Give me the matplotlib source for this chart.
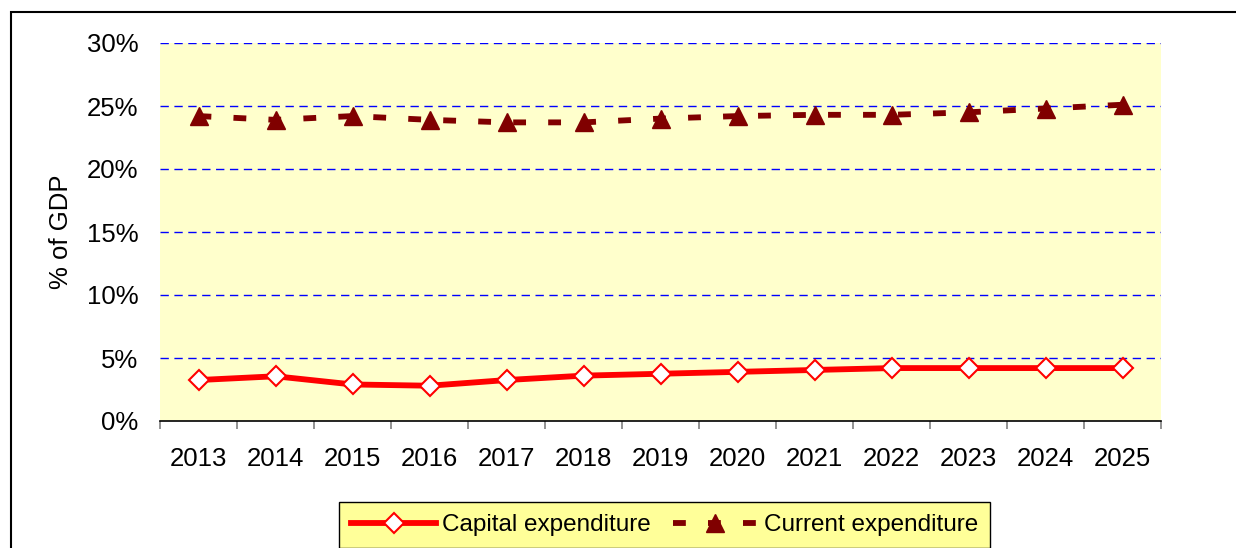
import matplotlib.pyplot as plt
from matplotlib.patches import Rectangle
from matplotlib.ticker import FuncFormatter, FixedLocator
import numpy as np

years = ['2013', '2014', '2015', '2016', '2017', '2018', '2019',
         '2020', '2021', '2022', '2023', '2024', '2025']
capital = [3.25, 3.55, 2.9, 2.8, 3.25, 3.6, 3.75, 3.9, 4.05, 4.2, 4.2, 4.2, 4.2]
current = [24.2, 23.9, 24.2, 23.9, 23.7, 23.7, 24.0, 24.2, 24.3, 24.3, 24.5, 24.8, 25.1]

plt.rcParams['font.family'] = ['Liberation Sans', 'DejaVu Sans']

fig = plt.figure(figsize=(12.36, 5.48), dpi=100)
ax = fig.add_axes([160 / 1236, 1 - 421 / 548, 1001 / 1236, 378 / 548])
ax.set_facecolor('#FFFFCC')

x = np.arange(len(years))

# gridlines
for v in range(5, 31, 5):
    ax.axhline(v, color='#0000FF', linewidth=1, linestyle=(0, (6, 4)), zorder=1)

ax.plot(x, capital, color='#FF0000', linewidth=4.2, marker='D', markersize=10,
        markerfacecolor='white', markeredgecolor='#FF0000', markeredgewidth=1.5,
        label='Capital expenditure', zorder=3)
ax.plot(x, current, color='#800000', linewidth=4.2, linestyle=(0, (2.2, 3.8)),
        dash_capstyle='butt', marker='^', markersize=13,
        markerfacecolor='#800000', markeredgecolor='#800000',
        label='Current expenditure', zorder=3)

ax.set_xlim(-0.5, len(years) - 0.5)
ax.set_ylim(0, 30)
ax.set_yticks(range(0, 31, 5))
ax.yaxis.set_major_formatter(FuncFormatter(lambda v, p: f'{v:.0f}%'))
ax.set_xticks(x)
ax.set_xticklabels(years)
ax.xaxis.set_minor_locator(FixedLocator(np.arange(-0.5, len(years), 1.0)))
ax.tick_params(axis='x', which='major', length=0, pad=19, labelsize=18.5)
ax.tick_params(axis='x', which='minor', length=6, color='#808080', width=1.2)
ax.tick_params(axis='y', length=0, pad=15.5, labelsize=18.5)

for s in ['top', 'right', 'left']:
    ax.spines[s].set_visible(False)
ax.spines['bottom'].set_color('black')
ax.spines['bottom'].set_linewidth(1.2)

ax.set_ylabel('% of GDP', fontsize=18.5)
ax.yaxis.set_label_coords(-0.087, 0.5)

# legend box at the bottom, running off the edge
leg = fig.legend(loc='upper left', bbox_to_anchor=(339 / 1236, 1 - 502 / 548),
                 ncol=2, fontsize=17.5, frameon=True, fancybox=False,
                 handlelength=3.5, columnspacing=0.9, handletextpad=0.25,
                 borderpad=0.5, borderaxespad=0)
leg.get_frame().set_facecolor('#FFFF99')
leg.get_frame().set_edgecolor('black')
leg.get_frame().set_linewidth(1)
leg.get_frame().set_alpha(1)

# outer chart border
fig.patches.append(Rectangle((11 / 1236, -0.2), 2, 1 - 12 / 548 + 0.2,
                             transform=fig.transFigure, fill=False,
                             edgecolor='black', linewidth=1.5))

fig.savefig('out.png', dpi=100)
